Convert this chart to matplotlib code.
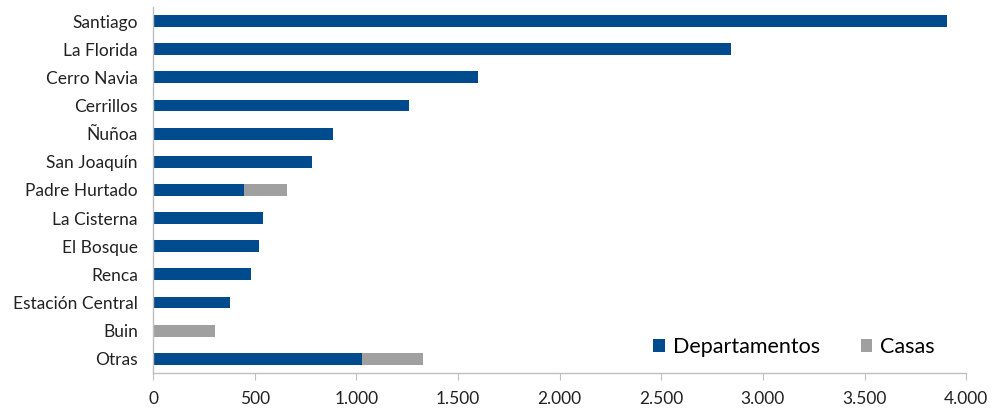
import matplotlib.pyplot as plt
from matplotlib.ticker import FuncFormatter

comunas = ["Santiago", "La Florida", "Cerro Navia", "Cerrillos", "Ñuñoa", "San Joaquín",
           "Padre Hurtado", "La Cisterna", "El Bosque", "Renca", "Estación Central",
           "Buin", "Otras"]
departamentos = [3905, 2845, 1597, 1258, 885, 781, 447, 540, 522, 480, 378, 0, 1028]
casas = [0, 0, 0, 0, 0, 0, 213, 0, 0, 0, 0, 305, 299]

azul = "#004B8D"
gris = "#A0A0A0"

plt.rcParams['font.family'] = ['Lato', 'DejaVu Sans']

fig = plt.figure(figsize=(9.94, 4.12), dpi=100)
ax = fig.add_axes([0.154, 0.095, 0.818, 0.888])

y = range(len(comunas))
ax.barh(y, departamentos, height=0.42, color=azul, label="Departamentos")
ax.barh(y, casas, left=departamentos, height=0.42, color=gris, label="Casas")

ax.set_yticks(list(y))
ax.set_yticklabels(comunas, fontsize=12.5, color="#222222")
ax.set_ylim(len(comunas) - 0.5, -0.5)
ax.set_xlim(0, 4000)
ax.set_xticks(range(0, 4001, 500))
ax.xaxis.set_major_formatter(FuncFormatter(lambda v, p: f"{int(v):,}".replace(",", ".")))
ax.tick_params(axis="x", labelsize=12.5, colors="#222222", length=5, color="#BFBFBF", pad=8)
ax.tick_params(axis="y", length=0, pad=11)

for s in ["top", "right"]:
    ax.spines[s].set_visible(False)
for s in ["left", "bottom"]:
    ax.spines[s].set_color("#BFBFBF")
    ax.spines[s].set_linewidth(1)

ax.legend(loc="lower right", bbox_to_anchor=(0.985, -0.01), ncol=2, frameon=False,
          fontsize=15.5, handlelength=0.55, handleheight=0.55, columnspacing=1.9,
          handletextpad=0.35)

fig.savefig("out.png", dpi=100)
